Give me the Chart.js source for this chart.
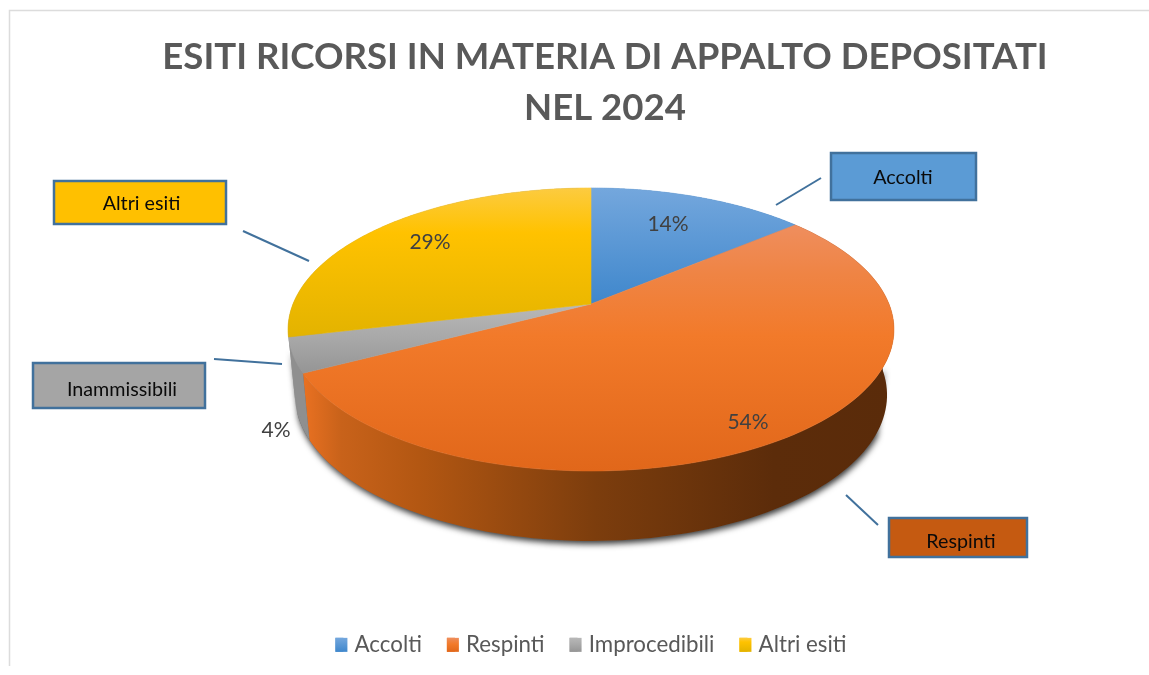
<!DOCTYPE html>
<html lang="it">
<head>
<meta charset="utf-8">
<title>Esiti ricorsi</title>
<script src="https://cdn.jsdelivr.net/npm/chart.js@4"></script>
<style>html,body{margin:0;padding:0;background:#fff}canvas{display:block}</style>
</head>
<body>
<canvas id="c" width="1149" height="675"></canvas>
<script>
const categories = ['Accolti', 'Respinti', 'Improcedibili', 'Altri esiti'];
const shares = [14, 54, 4, 29];
const titleLines = ['ESITI RICORSI IN MATERIA DI APPALTO DEPOSITATI', 'NEL 2024'];
const calloutTexts = ['Accolti', 'Respinti', 'Inammissibili', 'Altri esiti'];
const baseColors = ['#5B9BD5', '#ED7D31', '#A5A5A5', '#FFC000'];

// perspective of the disc: unit circle -> screen
const TOP = { k: 0.18, A: 298, a: 82.2, b: 304 };
const BOTTOM = { k: 0.18, A: 291.2, a: 74.9, b: 368.7 };
function project(g, cx, theta) {
  const x = Math.sin(theta), y = -Math.cos(theta), w = 1 - g.k * y;
  return [cx + g.A * x / w, (g.a * y + g.b) / w];
}
function grad(ctx, x0, y0, x1, y1, stops) {
  const g = ctx.createLinearGradient(x0, y0, x1, y1);
  stops.forEach(s => g.addColorStop(s[0], s[1]));
  return g;
}
const topStops = [
  [[0, '#74A7DD'], [1, '#3F87CC']],
  [[0, '#EF8E5E'], [0.2, '#EF8444'], [0.45, '#F27A2A'], [1, '#E1671A']],
  [[0, '#B8B8B8'], [0.5, '#A8A8A8'], [1, '#959595']],
  [[0, '#FCCB40'], [0.3, '#FFC200'], [1, '#E3B300']]
];
const sideStops = [
  [[0, '#5B9BD5'], [1, '#2E5F8C']],
  [[0, '#EC7222'], [0.07, '#C8621A'], [0.2, '#B35712'], [0.5, '#7C3D0D'], [0.8, '#5C2C0A'], [1, '#5A2B0A']],
  [[0, '#8F8F8F'], [1, '#8A8A8A']],
  [[0, '#8F8F8F'], [1, '#8A8A8A']]
];
const STEPS = 120;
function arcPath(ctx, g, cx, a0, a1, moveFirst) {
  for (let i = 0; i <= STEPS; i++) {
    const p = project(g, cx, a0 + (a1 - a0) * i / STEPS);
    if (i === 0 && moveFirst) ctx.moveTo(p[0], p[1]); else ctx.lineTo(p[0], p[1]);
  }
}
// rim of the disc, swept from the upper rim down to the lower rim
function sweepPath(ctx, cx, a0, a1) {
  ctx.beginPath();
  for (let i = 0; i < STEPS; i++) {
    const t0 = a0 + (a1 - a0) * i / STEPS, t1 = a0 + (a1 - a0) * (i + 1) / STEPS;
    const p0 = project(TOP, cx, t0), p1 = project(TOP, cx, t1);
    const q1 = project(BOTTOM, cx, t1), q0 = project(BOTTOM, cx, t0);
    ctx.moveTo(p0[0], p0[1]); ctx.lineTo(p1[0], p1[1]);
    ctx.lineTo(q1[0], q1[1]); ctx.lineTo(q0[0], q0[1]);
    ctx.closePath();
  }
}

const disc3d = {
  id: 'disc3d',
  afterLayout(chart) {
    chart.titleBlock.left += 14;
    chart.titleBlock.right += 14;
  },
  beforeDraw(chart) {
    const ctx = chart.ctx;
    ctx.save();
    ctx.strokeStyle = '#DCDCDC';
    ctx.lineWidth = 1.5;
    ctx.beginPath();
    ctx.moveTo(1149, 10.5); ctx.lineTo(9.5, 10.5); ctx.lineTo(9.5, 666);
    ctx.stroke();
    ctx.restore();
  },
  beforeDatasetDraw(chart, args) {
    const ctx = chart.ctx, arcs = chart.getDatasetMeta(args.index).data;
    const cx = arcs[0].x;
    const th = a => a + Math.PI / 2;
    ctx.save();
    // drop shadow under the lower part of the disc
    ctx.save();
    ctx.shadowColor = 'rgba(0,0,0,0.8)';
    ctx.shadowBlur = 6;
    ctx.shadowOffsetX = 1;
    ctx.shadowOffsetY = 3;
    ctx.fillStyle = '#6a6a6a';
    sweepPath(ctx, cx, Math.PI * 0.64, Math.PI * 1.4);
    ctx.fill();
    ctx.restore();
    // rim
    arcs.forEach((el, i) => {
      const a0 = th(el.startAngle), a1 = th(el.endAngle);
      ctx.fillStyle = grad(ctx, 300, 0, 892, 0, sideStops[i]);
      sweepPath(ctx, cx, a0, a1);
      ctx.fill();
    });
    // top faces
    arcs.forEach((el, i) => {
      const a0 = th(el.startAngle), a1 = th(el.endAngle);
      const ys = [];
      for (let s = 0; s <= STEPS; s++) ys.push(project(TOP, cx, a0 + (a1 - a0) * s / STEPS)[1]);
      ys.push(TOP.b);
      ctx.fillStyle = grad(ctx, 0, Math.min(...ys), 0, Math.max(...ys), topStops[i]);
      ctx.strokeStyle = ctx.fillStyle;
      ctx.lineWidth = 0.6;
      ctx.beginPath();
      ctx.moveTo(cx, TOP.b);
      arcPath(ctx, TOP, cx, a0, a1, false);
      ctx.closePath();
      ctx.fill();
      ctx.stroke();
    });
    ctx.restore();
    return false;
  },
  afterDatasetsDraw(chart) {
    const ctx = chart.ctx;
    const arcs = chart.getDatasetMeta(0).data;
    const labelSpots = [[668, 224], [748, 422], [276, 430], [430, 242]];
    ctx.save();
    ctx.font = '21px Lato';
    ctx.fillStyle = '#404040';
    ctx.textAlign = 'center';
    ctx.textBaseline = 'middle';
    arcs.forEach((el, i) => {
      ctx.fillText(shares[i] + '%', labelSpots[i][0], labelSpots[i][1]);
    });
    // callouts
    const boxes = [[831, 153, 145, 47], [889, 518, 138, 39], [33, 363, 172, 45], [54, 181, 172, 43]];
    const fills = ['#5B9BD5', '#C55A11', '#A5A5A5', '#FFC000'];
    const textAt = [[903, 177.5], [961, 541.5], [122, 389.5], [141.5, 203.5]];
    const leaders = [[776, 205, 821, 178], [846, 495, 878, 525], [214, 359, 282, 364], [243, 231, 309, 261]];
    ctx.font = '19.7px Lato';
    calloutTexts.forEach((t, i) => {
      const b = boxes[i], l = leaders[i];
      ctx.strokeStyle = '#41719C';
      ctx.lineWidth = 2;
      ctx.beginPath(); ctx.moveTo(l[0], l[1]); ctx.lineTo(l[2], l[3]); ctx.stroke();
      ctx.fillStyle = fills[i];
      ctx.lineWidth = 2.5;
      ctx.fillRect(b[0], b[1], b[2], b[3]);
      ctx.strokeRect(b[0], b[1], b[2], b[3]);
      ctx.fillStyle = '#0A0A0A';
      ctx.fillText(t, textAt[i][0], textAt[i][1]);
    });
    ctx.restore();
  },
  afterDraw(chart) {
    const ctx = chart.ctx, boxes = chart.legend.legendHitBoxes;
    ctx.save();
    boxes.forEach((h, i) => {
      const yc = h.top + h.height / 2;
      ctx.fillStyle = grad(ctx, 0, yc - 7, 0, yc + 7, topStops[i]);
      ctx.fillRect(h.left, yc - 7, 12, 14);
    });
    ctx.restore();
  }
};

new Chart(document.getElementById('c'), {
  type: 'pie',
  data: {
    labels: categories,
    datasets: [{ data: shares, backgroundColor: baseColors, borderWidth: 0 }]
  },
  plugins: [disc3d],
  options: {
    responsive: false,
    animation: false,
    layout: { padding: { left: 33, bottom: 9 } },
    plugins: {
      tooltip: { enabled: false },
      title: {
        display: true,
        text: titleLines,
        color: '#595959',
        font: { family: 'Lato', size: 36.6, weight: 'bold', lineHeight: 1.39 },
        padding: { top: 32, bottom: 10 }
      },
      legend: {
        position: 'bottom',
        onClick: null,
        labels: {
          color: '#595959',
          font: { family: 'Lato', size: 22.3 },
          boxWidth: 8,
          boxHeight: 14,
          padding: 25
        }
      }
    }
  }
});
</script>
</body>
</html>
